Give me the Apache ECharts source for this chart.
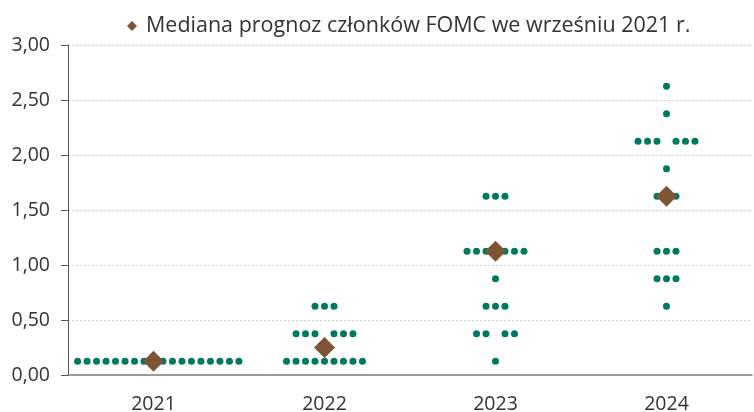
<!DOCTYPE html>
<html>
<head>
<meta charset="utf-8">
<script src="https://cdn.jsdelivr.net/npm/echarts@6/dist/echarts.min.js"></script>
<style>
html, body { margin: 0; padding: 0; background: #fff; }
#main { width: 754px; height: 412px; }
</style>
</head>
<body>
<div id="main"></div>
<script>
var years = ['2021', '2022', '2023', '2024'];
// poziomy stóp (środek przedziału) i liczba kropek członków FOMC na każdym poziomie
var rateLevels = [0.125, 0.375, 0.625, 0.875, 1.125, 1.375, 1.625, 1.875, 2.125, 2.375, 2.625];
var dots2021 = [18, 0, 0, 0, 0, 0, 0, 0, 0, 0, 0];
var dots2022 = [9, 6, 3, 0, 0, 0, 0, 0, 0, 0, 0];
var dots2023 = [1, 4, 3, 1, 6, 0, 3, 0, 0, 0, 0];
var dots2024 = [0, 0, 1, 3, 3, 0, 2, 1, 6, 1, 1];
var medians = [0.125, 0.25, 1.125, 1.625];

var dotCounts = [dots2021, dots2022, dots2023, dots2024];
var step = 0.0555; // odstęp kropek w jednostkach osi x

// rozmieszczenie kropek w rzędzie wokół środka kategorii
function slots(n) {
    var out = [];
    if (n % 2 == 1) {
        for (var j = 0; j < n; j++) out.push(j - (n - 1) / 2);
    } else if (n > 10) {
        for (var j = 0; j < n; j++) out.push(j - (n / 2 - 1));
    } else {
        for (var j = 1; j <= n / 2; j++) { out.push(-j); out.push(j); }
    }
    return out;
}

var dotData = [];
for (var i = 0; i < years.length; i++) {
    for (var k = 0; k < rateLevels.length; k++) {
        var s = slots(dotCounts[i][k]);
        for (var m = 0; m < s.length; m++) {
            dotData.push([i + s[m] * step, rateLevels[k]]);
        }
    }
}
var medianData = [];
for (var i = 0; i < medians.length; i++) {
    medianData.push([i, medians[i]]);
}

var chart = echarts.init(document.getElementById('main'));
var option = {
    animation: false,
    textStyle: { fontFamily: 'Open Sans' },
    legend: {
        data: ['Mediana prognoz członków FOMC we wrześniu 2021 r.'],
        top: 10,
        left: 122,
        itemWidth: 10,
        itemHeight: 10,
        itemGap: 4,
        textStyle: { fontSize: 21.5, color: '#333', padding: [0, 0, 0, 4] }
    },
    grid: { left: 68, right: 2, top: 45, bottom: 37, outerBoundsMode: 'none', containLabel: false },
    xAxis: [{
        type: 'category',
        data: years,
        boundaryGap: true,
        axisLine: { lineStyle: { color: '#808080', width: 1.5 } },
        axisTick: { show: false },
        axisLabel: { fontSize: 19.5, color: '#333', margin: 19 }
    }, {
        type: 'value',
        min: -0.5,
        max: 3.5,
        show: false
    }],
    yAxis: {
        type: 'value',
        min: 0,
        max: 3,
        interval: 0.5,
        axisLine: { show: true, onZero: false, lineStyle: { color: '#555' } },
        axisTick: { show: true, length: 7, lineStyle: { color: '#555' } },
        axisLabel: {
            fontSize: 19.5, color: '#333', margin: 18,
            formatter: function (v) { return v.toFixed(2).replace('.', ','); }
        },
        splitLine: { lineStyle: { color: '#cfcfcf', type: [2, 2] } }
    },
    series: [{
        name: 'kropki',
        type: 'scatter',
        xAxisIndex: 1,
        symbol: 'circle',
        symbolSize: 7,
        itemStyle: { color: '#007a5e', opacity: 1 },
        data: dotData,
        z: 2
    }, {
        name: 'Mediana prognoz członków FOMC we wrześniu 2021 r.',
        type: 'scatter',
        xAxisIndex: 1,
        symbol: 'diamond',
        symbolSize: 21,
        itemStyle: { color: '#7d5535', opacity: 1 },
        data: medianData,
        z: 3
    }]
};
chart.setOption(option);
</script>
</body>
</html>
